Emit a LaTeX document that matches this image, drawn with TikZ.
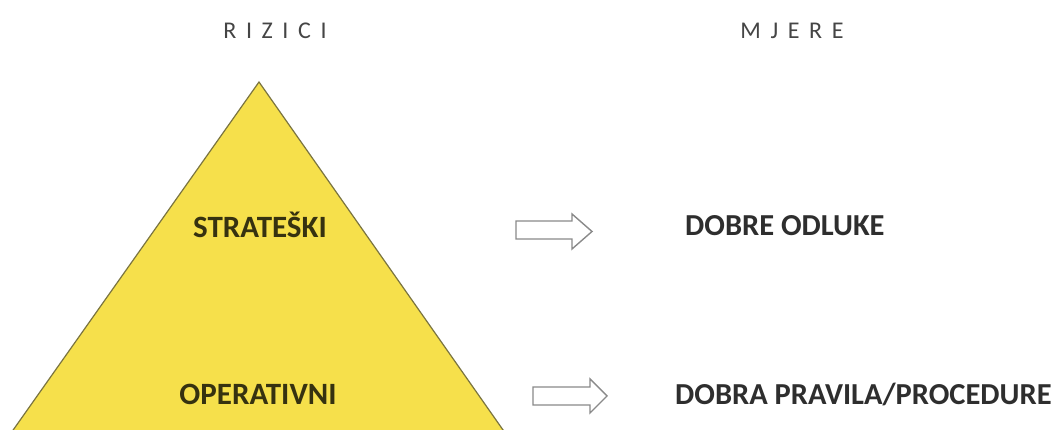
\documentclass[tikz,border=0pt]{standalone}
\usepackage{fontspec}
\setmainfont{Carlito}
\newfontfamily\spacedfont[LetterSpace=40]{Carlito}
\definecolor{pyryellow}{HTML}{F6E04B}
\definecolor{pyredge}{HTML}{7A7440}
\definecolor{txtdark}{HTML}{2E2E2E}
\definecolor{trtxt}{HTML}{363210}
\definecolor{headgray}{HTML}{454545}
\definecolor{arrgray}{HTML}{8A8A8A}
\begin{document}
\begin{tikzpicture}[x=1pt,y=1pt,
  lvl/.style={font=\fontsize{31}{34}\selectfont\bfseries, text=trtxt, inner sep=0pt, anchor=base},
  meas/.style={font=\fontsize{30.5}{34}\selectfont\bfseries, text=txtdark, inner sep=0pt, anchor=base west},
  colhead/.style={font=\spacedfont\fontsize{24}{26}\selectfont, text=headgray, inner sep=0pt, anchor=base},
  blockarrow/.style={draw=arrgray, line width=1.4pt, fill=white, line join=miter}]
\useasboundingbox (0,0) rectangle (1053,430);
\fill[white] (0,0) rectangle (1053,430);
\begin{scope}
\clip (0,0) rectangle (1053,430);
\coordinate (apex) at (259,348);
\coordinate (bl) at (-13,-37);
\coordinate (br) at (529,-37);
\draw[fill=pyryellow, draw=pyredge, line width=1.2pt] (bl) -- (apex) -- (br) -- cycle;
\end{scope}
\node[colhead] (rizici) at (275,391) {RIZICI};
\node[colhead] (mjere) at (792,391) {MJERE};
\node[lvl] (strat) at (260,192.5) {STRATEŠKI};
\node[lvl] (oper) at (258,25.5) {OPERATIVNI};
\node[meas] (odluke) at (685,194.5) {DOBRE ODLUKE};
\node[meas] (pravila) at (675,25.5) {DOBRA PRAVILA/PROCEDURE};
% arrow 1
\draw[blockarrow] (516,191) -- (572,191) -- (572,181) -- (592,198.5) -- (572,216) -- (572,209) -- (516,209) -- cycle;
% arrow 2
\draw[blockarrow] (533,25) -- (590,25) -- (590,17) -- (607,34) -- (590,51) -- (590,43) -- (533,43) -- cycle;
\end{tikzpicture}
\end{document}
